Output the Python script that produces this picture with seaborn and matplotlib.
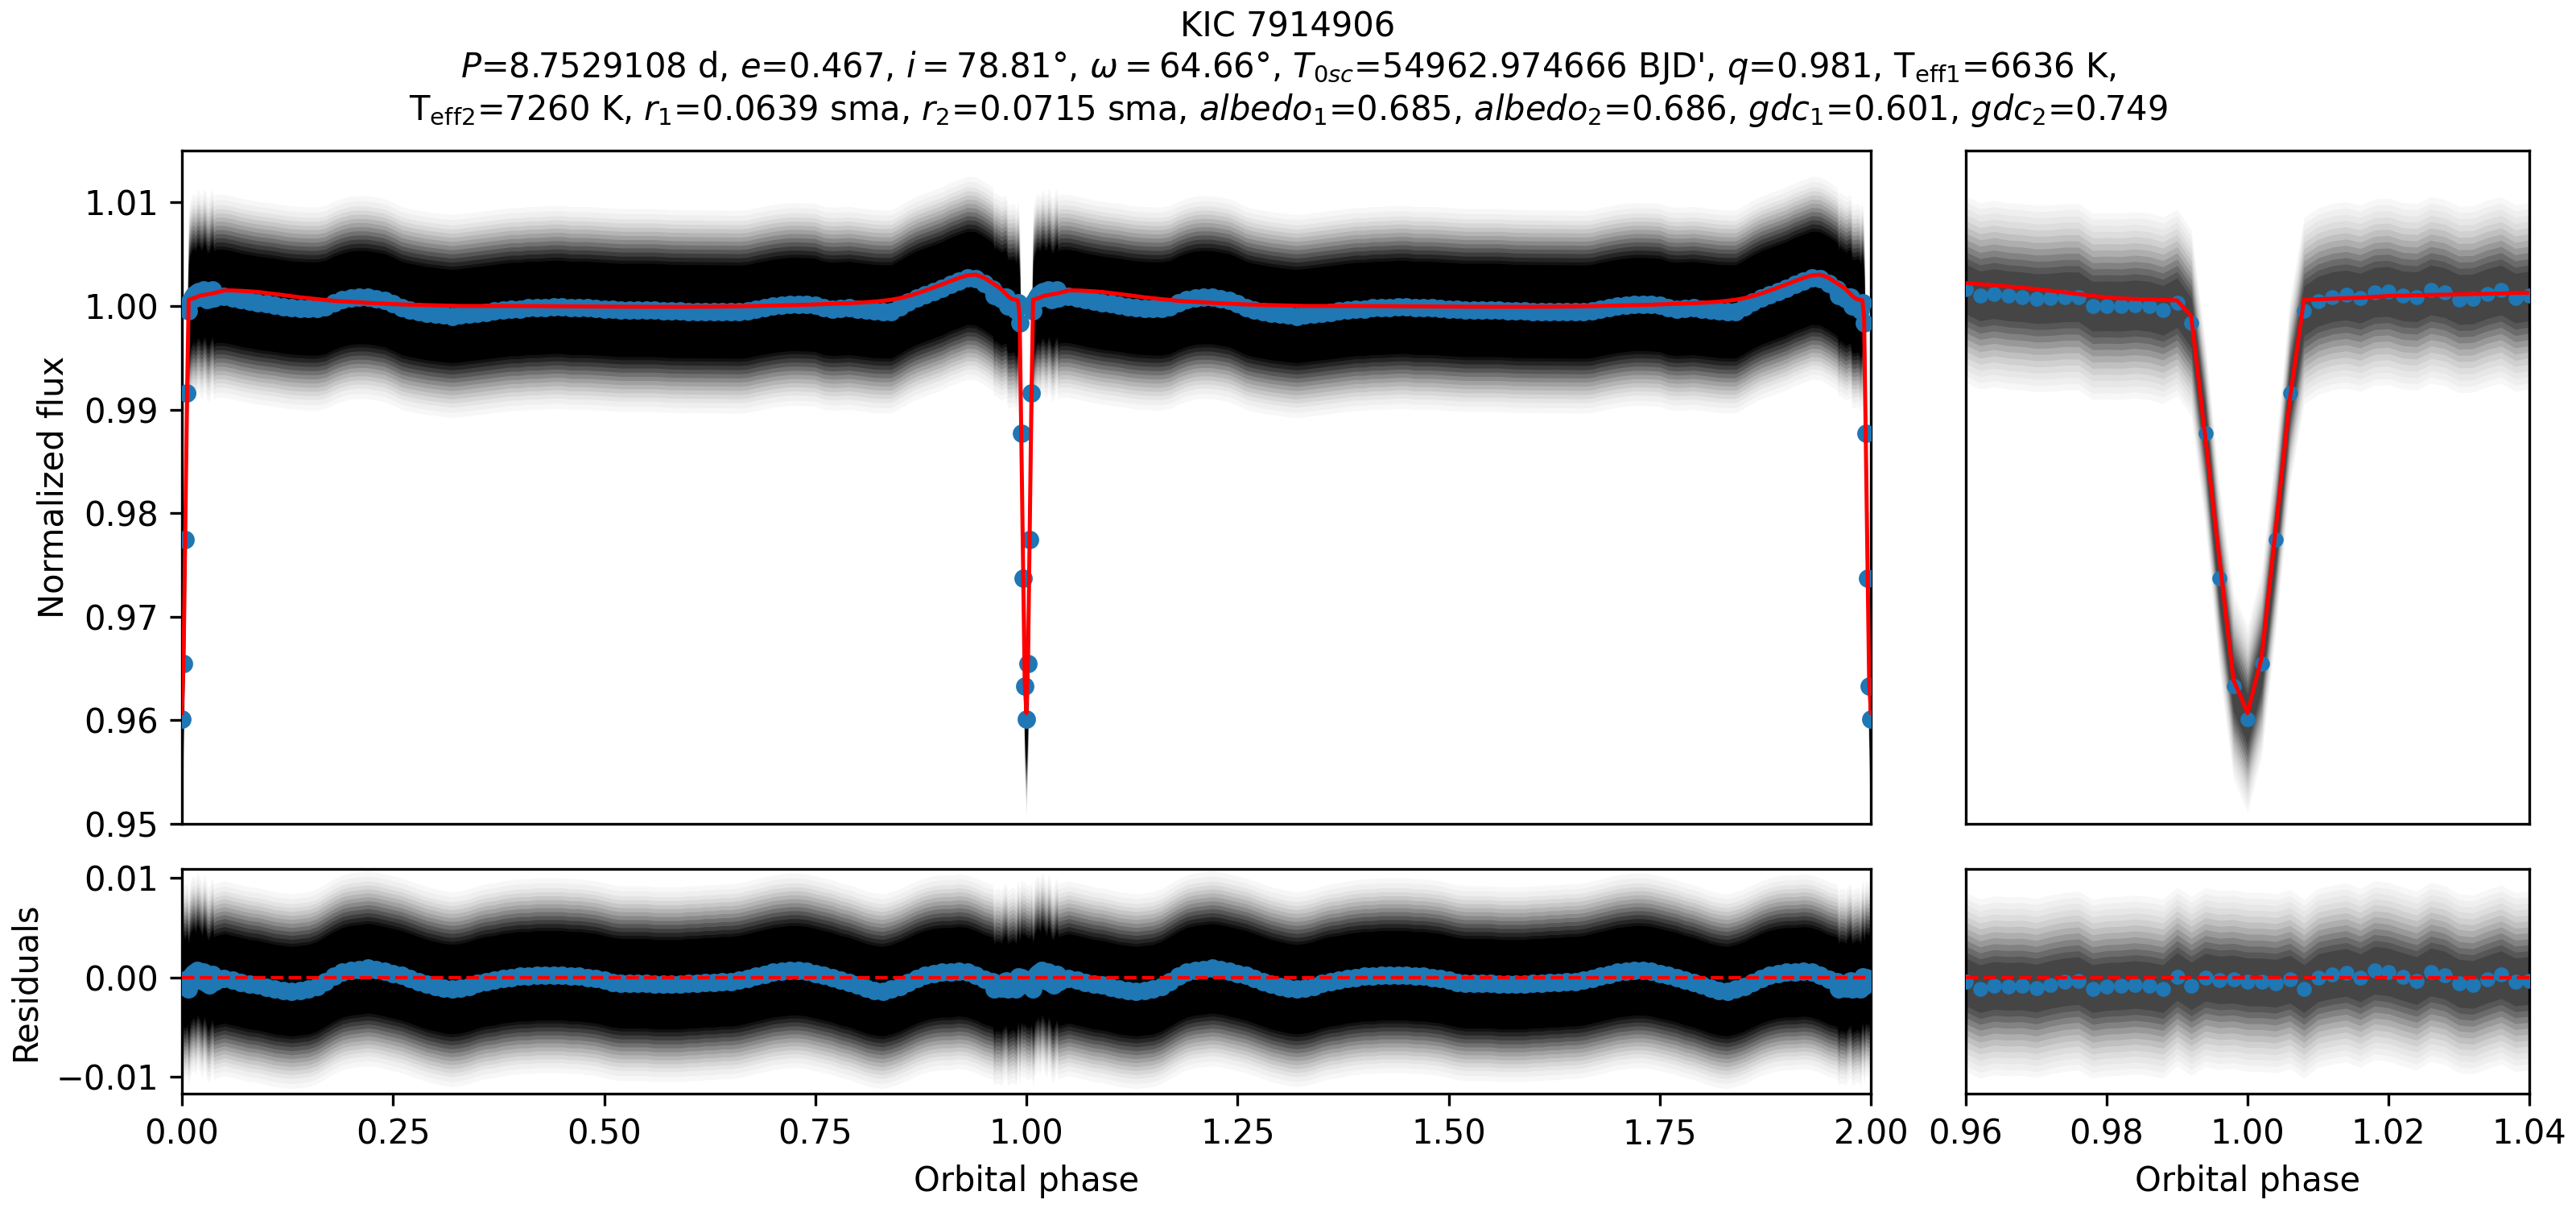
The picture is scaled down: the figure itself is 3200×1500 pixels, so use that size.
import numpy as np
import matplotlib
matplotlib.use("Agg")
import matplotlib.pyplot as plt
import seaborn as sns

# ------------------------------------------------------------------ data
# binned phases (0.002 steps around the eclipse, 0.01 steps elsewhere)
phase_egress = [0.000, 0.002, 0.004, 0.006, 0.008, 0.010, 0.012, 0.014, 0.016, 0.018,
                0.020, 0.022, 0.024, 0.026, 0.028, 0.030, 0.032, 0.034, 0.036, 0.038, 0.040]
phase_mid = [0.05, 0.06, 0.07, 0.08, 0.09, 0.10, 0.11, 0.12, 0.13, 0.14,
             0.15, 0.16, 0.17, 0.18, 0.19, 0.20, 0.21, 0.22, 0.23, 0.24,
             0.25, 0.26, 0.27, 0.28, 0.29, 0.30, 0.31, 0.32, 0.33, 0.34,
             0.35, 0.36, 0.37, 0.38, 0.39, 0.40, 0.41, 0.42, 0.43, 0.44,
             0.45, 0.46, 0.47, 0.48, 0.49, 0.50, 0.51, 0.52, 0.53, 0.54,
             0.55, 0.56, 0.57, 0.58, 0.59, 0.60, 0.61, 0.62, 0.63, 0.64,
             0.65, 0.66, 0.67, 0.68, 0.69, 0.70, 0.71, 0.72, 0.73, 0.74,
             0.75, 0.76, 0.77, 0.78, 0.79, 0.80, 0.81, 0.82, 0.83, 0.84,
             0.85, 0.86, 0.87, 0.88, 0.89, 0.90, 0.91, 0.92, 0.93, 0.94, 0.95]
phase_ingress = [0.960, 0.962, 0.964, 0.966, 0.968, 0.970, 0.972, 0.974, 0.976, 0.978,
                 0.980, 0.982, 0.984, 0.986, 0.988, 0.990, 0.992, 0.994, 0.996, 0.998]

# model light curve (red)
model_egress = [0.9607, 0.9661, 0.9785, 0.9910, 1.0006, 1.00065, 1.0007, 1.00075, 1.0008, 1.00088,
                1.00097, 1.00100, 1.00103, 1.00106, 1.00109, 1.00112, 1.00115, 1.00118, 1.00121,
                1.00125, 1.00128]
model_mid = [1.00150, 1.00150, 1.00146, 1.00141, 1.00135, 1.00125, 1.00115, 1.00105, 1.00094, 1.00083,
             1.00075, 1.00066, 1.00058, 1.00050, 1.00044, 1.00040, 1.00035, 1.00030, 1.00026, 1.00022,
             1.00018, 1.00015, 1.00012, 1.00010, 1.00008, 1.00006, 1.00004, 1.00002, 1.00000, 1.00000,
             1.00000, 1.00000, 1.00000, 1.00000, 1.00000, 0.99999, 0.99999, 0.99998, 0.99998, 0.99997,
             0.99997, 0.99996, 0.99996, 0.99995, 0.99995, 0.99994, 0.99994, 0.99993, 0.99993, 0.99993,
             0.99992, 0.99992, 0.99992, 0.99992, 0.99992, 0.99992, 0.99993, 0.99993, 0.99994, 0.99995,
             0.99996, 0.99997, 0.99998, 1.00000, 1.00002, 1.00004, 1.00006, 1.00008, 1.00010, 1.00012,
             1.00015, 1.00018, 1.00021, 1.00024, 1.00027, 1.00031, 1.00036, 1.00042, 1.00050, 1.00060,
             1.00075, 1.00095, 1.00120, 1.00148, 1.00178, 1.00208, 1.00240, 1.00270, 1.00295, 1.00303,
             1.00272]
model_ingress = [1.00220, 1.00210, 1.00200, 1.00188, 1.00176, 1.00163, 1.00148, 1.00132, 1.00115, 1.00098,
                 1.00083, 1.00073, 1.00067, 1.00062, 1.00058, 1.00054, 0.99900, 0.98730, 0.97560, 0.96390]

# binned normalized flux (blue)
flux_egress = [0.96010, 0.96546, 0.97744, 0.99160, 0.99953, 1.00045, 1.00088, 1.00106, 1.00075, 1.00132,
               1.00140, 1.00097, 1.00088, 1.00154, 1.00128, 1.00062, 1.00067, 1.00119, 1.00154, 1.00075,
               1.00097]
flux_mid = [1.00096, 1.00080, 1.00060, 1.00045, 1.00030, 1.00020, 1.00010, 0.99995, 0.99985, 0.99979,
            0.99975, 0.99975, 0.99990, 1.00030, 1.00060, 1.00080, 1.00085, 1.00083, 1.00070, 1.00055,
            1.00020, 0.99980, 0.99960, 0.99945, 0.99930, 0.99920, 0.99910, 0.99902, 0.99910, 0.99920,
            0.99930, 0.99940, 0.99950, 0.99960, 0.99970, 0.99970, 0.99980, 0.99980, 0.99985, 0.99990,
            0.99990, 0.99980, 0.99980, 0.99980, 0.99975, 0.99970, 0.99965, 0.99960, 0.99960, 0.99960,
            0.99960, 0.99960, 0.99955, 0.99950, 0.99950, 0.99948, 0.99948, 0.99947, 0.99947, 0.99946,
            0.99945, 0.99944, 0.99950, 0.99970, 0.99985, 1.00000, 1.00010, 1.00018, 1.00018, 1.00015,
            1.00010, 0.99980, 0.99972, 0.99975, 0.99980, 0.99970, 0.99960, 0.99950, 0.99947, 0.99947,
            0.99990, 1.00040, 1.00080, 1.00110, 1.00140, 1.00170, 1.00210, 1.00240, 1.00272, 1.00265,
            1.00220]
flux_ingress = [1.00163, 1.00097, 1.00119, 1.00097, 1.00088, 1.00071, 1.00075, 1.00088, 1.00088, 0.99997,
                1.00001, 0.99997, 1.00010, 0.99997, 0.99958, 1.00032, 0.99836, 0.98768, 0.97374, 0.96328]

# binned residuals (blue)
resid_egress = [-0.00046, -0.00046, -0.00060, -0.00019, -0.00114, -0.00005, 0.00027, 0.00049, -0.00005,
                0.00071, 0.00054, 0.00008, -0.00033, 0.00054, 0.00022, -0.00060, -0.00073, -0.00019,
                0.00027, -0.00046, -0.00033]
resid_mid = [-0.0001, -0.0003, -0.0005, -0.0007, -0.0008, -0.0010, -0.0012, -0.0013, -0.0014, -0.0013,
             -0.0012, -0.0009, -0.0004, 0.0001, 0.0005, 0.0007, 0.0008, 0.0009, 0.0008, 0.0006,
             0.0004, 0.0002, -0.0001, -0.0004, -0.0007, -0.0009, -0.0011, -0.0012, -0.0011, -0.0009,
             -0.0006, -0.0004, -0.0003, -0.0001, 0.0000, 0.0001, 0.0001, 0.0002, 0.0002, 0.0002,
             0.0002, 0.0001, 0.0001, 0.0000, -0.0001, -0.0003, -0.0005, -0.0006, -0.0006, -0.0006,
             -0.0006, -0.0007, -0.0007, -0.0007, -0.0007, -0.0006, -0.0006, -0.0005, -0.0005, -0.0004,
             -0.0004, -0.0003, -0.0001, 0.0001, 0.0003, 0.0005, 0.0006, 0.0007, 0.0007, 0.0006,
             0.0004, 0.0002, 0.0000, -0.0003, -0.0005, -0.0008, -0.0011, -0.0013, -0.0014, -0.0012,
             -0.0009, -0.0005, -0.0001, 0.0002, 0.0004, 0.0005, 0.0005, 0.0006, 0.0005, 0.0002,
             -0.0002]
resid_ingress = [-0.00046, -0.00114, -0.00082, -0.00092, -0.00087, -0.00109, -0.00073, -0.00046, -0.00033,
                 -0.00114, -0.00092, -0.00087, -0.00073, -0.00087, -0.00114, 0.00008, -0.00087, 0.00000,
                 -0.00027, -0.00019]

# spread of the unbinned observations around the binned values (half widths, flux units)
# and how densely they cover the plot at each spread (0 = empty, 1 = solid)
spread_dense = [0.0098, 0.0093, 0.0088, 0.0084, 0.0080, 0.0076, 0.0072, 0.0068,
                0.0064, 0.0060, 0.0056, 0.0052, 0.0048, 0.0045]
cover_dense = [0.03, 0.06, 0.10, 0.15, 0.21, 0.28, 0.36, 0.45,
               0.55, 0.65, 0.75, 0.85, 0.93, 1.0]
spread_zoom = [0.0090, 0.0084, 0.0078, 0.0072, 0.0066, 0.0060, 0.0054, 0.0048,
               0.0042, 0.0036, 0.0030, 0.0024]
cover_zoom = [0.03, 0.06, 0.09, 0.13, 0.18, 0.24, 0.31, 0.39,
              0.48, 0.57, 0.65, 0.72]

title_lines = [
    "KIC 7914906",
    r"$P$=8.7529108 d, $e$=0.467, $i=78.81$°, $\omega=64.66$°, $T_{0sc}$=54962.974666 BJD', "
    r"$q$=0.981, T$_{\rm eff1}$=6636 K,",
    r"T$_{\rm eff2}$=7260 K, $r_1$=0.0639 sma, $r_2$=0.0715 sma, $albedo_1$=0.685, "
    r"$albedo_2$=0.686, $gdc_1$=0.601, $gdc_2$=0.749",
]

# ------------------------------------------------------------------ assemble
phase_one = phase_egress + phase_mid + phase_ingress
model_one = model_egress + model_mid + model_ingress
flux_one = flux_egress + flux_mid + flux_ingress
resid_one = resid_egress + resid_mid + resid_ingress

# two folded cycles (0..2) for the left panels
x_left = np.array(phase_one + [p + 1 for p in phase_one] + [2.0])
model_left = np.array(model_one + model_one + model_one[:1])
flux_left = np.array(flux_one + flux_one + flux_one[:1])
resid_left = np.array(resid_one + resid_one + resid_one[:1])

# zoom around phase 1.0 for the right panels
x_right = np.array(phase_ingress + [p + 1 for p in phase_egress])
model_right = np.array(model_ingress + model_egress)
flux_right = np.array(flux_ingress + flux_egress)
resid_right = np.array(resid_ingress + resid_egress)

# ------------------------------------------------------------------ figure
W, H = 3200, 1500
fig = plt.figure(figsize=(W / 300, H / 300), dpi=300)


def rect(x0, x1, y0, y1):
    return [x0 / W, 1 - y1 / H, (x1 - x0) / W, (y1 - y0) / H]


ax_lt = fig.add_axes(rect(226, 2324, 187, 1023))
ax_lb = fig.add_axes(rect(226, 2324, 1079, 1358))
ax_rt = fig.add_axes(rect(2442, 3142, 187, 1023))
ax_rb = fig.add_axes(rect(2442, 3142, 1079, 1358))

blue = "#1f77b4"


def cloud(ax, x, centre, spreads, covers):
    prev = 0.0
    for w, c in zip(spreads, covers):
        a = 1.0 - (1.0 - c) / (1.0 - prev)
        ax.fill_between(x, centre - w, centre + w, color="black", alpha=a,
                        linewidth=0, zorder=1)
        prev = c


# top-left: flux over two cycles
cloud(ax_lt, x_left, flux_left, spread_dense, cover_dense)
sns.scatterplot(x=x_left, y=flux_left, ax=ax_lt, color=blue, s=30, linewidth=0, zorder=3)
sns.lineplot(x=x_left, y=model_left, ax=ax_lt, color="red", linewidth=1.2,
             estimator=None, zorder=4)

# bottom-left: residuals
cloud(ax_lb, x_left, resid_left, spread_dense, cover_dense)
sns.scatterplot(x=x_left, y=resid_left, ax=ax_lb, color=blue, s=30, linewidth=0, zorder=3)
ax_lb.axhline(0, color="red", linestyle="--", linewidth=1.0, zorder=4)

# top-right: zoom on eclipse
cloud(ax_rt, x_right, flux_right, spread_zoom, cover_zoom)
sns.scatterplot(x=x_right, y=flux_right, ax=ax_rt, color=blue, s=20, linewidth=0, zorder=3)
sns.lineplot(x=x_right, y=model_right, ax=ax_rt, color="red", linewidth=1.2,
             estimator=None, zorder=4)

# bottom-right: zoom on residuals
cloud(ax_rb, x_right, resid_right, spread_zoom, cover_zoom)
sns.scatterplot(x=x_right, y=resid_right, ax=ax_rb, color=blue, s=20, linewidth=0, zorder=3)
ax_rb.axhline(0, color="red", linestyle="--", linewidth=1.0, zorder=4)

# axes cosmetics
for ax in (ax_lt, ax_rt):
    ax.set_ylim(0.95, 1.015)
    ax.tick_params(bottom=False, labelbottom=False)
    ax.set_xlabel("")
for ax in (ax_lb, ax_rb):
    ax.set_ylim(-0.0117, 0.0109)
    ax.set_xlabel("Orbital phase")
for ax in (ax_lt, ax_lb):
    ax.set_xlim(0, 2)
for ax in (ax_rt, ax_rb):
    ax.set_xlim(0.96, 1.04)
    ax.tick_params(left=False, labelleft=False)
    ax.set_ylabel("")

ax_lt.set_yticks([0.95, 0.96, 0.97, 0.98, 0.99, 1.00, 1.01])
ax_lt.set_ylabel("Normalized flux")
ax_lb.set_yticks([-0.01, 0.0, 0.01])
ax_lb.set_ylabel("Residuals")
ax_lb.set_xticks([0.0, 0.25, 0.5, 0.75, 1.0, 1.25, 1.5, 1.75, 2.0])
ax_rb.set_xticks([0.96, 0.98, 1.00, 1.02, 1.04])

fig.suptitle("\n".join(title_lines), fontsize=10, y=0.992, va="top")

fig.savefig("out.png", dpi=300)
